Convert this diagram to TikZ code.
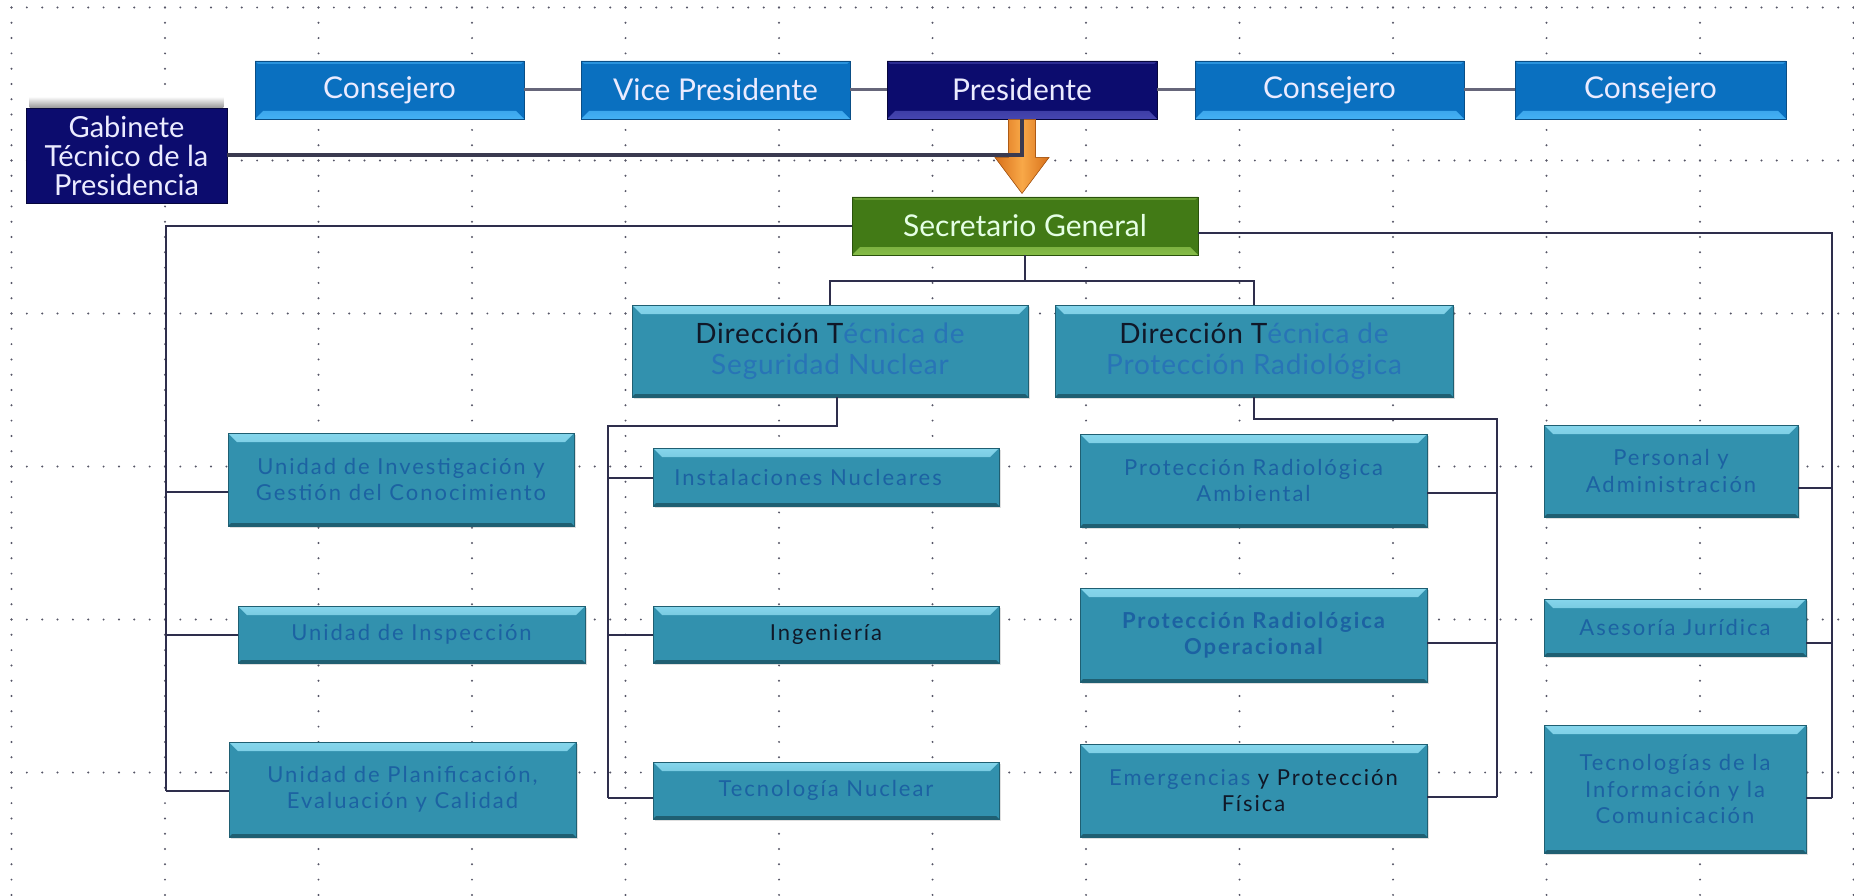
\documentclass[tikz,border=0pt]{standalone}
\usepackage{fontspec}
\setmainfont{Lato}
\newfontfamily\lowfont[LetterSpace=9]{Lato}
\newfontfamily\dirfont[LetterSpace=3]{Lato}
\usetikzlibrary{calc,shadows}
\definecolor{cblue}{HTML}{0A70C0}
\definecolor{cbluehi}{HTML}{44B0F4}
\definecolor{cbluedk}{HTML}{0A4E86}
\definecolor{cnavy}{HTML}{0C0C6E}
\definecolor{cnavyhi}{HTML}{4646B0}
\definecolor{cnavydk}{HTML}{06063C}
\definecolor{cgreen}{HTML}{427A16}
\definecolor{cgreenhi}{HTML}{86BC48}
\definecolor{cgreendk}{HTML}{2A520C}
\definecolor{cteal}{HTML}{3291AE}
\definecolor{ctealhi}{HTML}{86D6EC}
\definecolor{ctealdk}{HTML}{1F5F72}
\definecolor{ctxtblue}{HTML}{1C62A2}
\definecolor{ctxtlight}{HTML}{2874B6}
\definecolor{cdark}{HTML}{101828}
\definecolor{cline}{HTML}{2E2E4C}
\definecolor{ctopline}{HTML}{66667A}
\definecolor{cgabline}{HTML}{3A3A50}
\definecolor{corange}{HTML}{D8701A}
\definecolor{corangehi}{HTML}{F8A848}
\definecolor{gdot}{HTML}{555566}
\tikzset{
  bevA/.style n args={3}{rectangle, inner sep=0pt, draw=#3, line width=0.8pt, fill=#1, align=center,
    path picture={
      \shade[top color=#1, bottom color=#2]
        (path picture bounding box.south west) -- (path picture bounding box.south east)
        -- ([shift={(-8pt,8pt)}]path picture bounding box.south east)
        -- ([shift={(8pt,8pt)}]path picture bounding box.south west) -- cycle;
      \fill[#2!55!#1]
        (path picture bounding box.north west) -- (path picture bounding box.north east)
        -- ([shift={(-3pt,-3pt)}]path picture bounding box.north east)
        -- ([shift={(3pt,-3pt)}]path picture bounding box.north west) -- cycle;
    }},
  topbox/.style={bevA={cblue}{cbluehi}{cbluedk}, text=white!92!blue,
    font=\fontsize{30}{32}\selectfont, minimum height=58pt},
  presbox/.style={bevA={cnavy}{cnavyhi}{cnavydk}, text=white!92!blue,
    font=\fontsize{30}{32}\selectfont, minimum height=58pt},
  gabbox/.style={rectangle, inner sep=0pt, fill=cnavy, draw=cnavydk, line width=0.8pt,
    align=center, text=white!92!blue, font=\fontsize{29}{29}\selectfont},
  secbox/.style={bevA={cgreen}{cgreenhi}{cgreendk}, text=white!90!green,
    font=\fontsize{30}{32}\selectfont, minimum height=58pt},
  tealbox/.style={rectangle, inner sep=0pt, draw=ctealdk, line width=0.8pt, fill=cteal,
    align=center, text=ctxtblue, font=\lowfont\fontsize{22}{26.5}\selectfont,
    drop shadow={shadow xshift=2pt, shadow yshift=-2pt, opacity=0.25},
    path picture={
      \shade[top color=ctealhi, bottom color=cteal]
        (path picture bounding box.north west) -- (path picture bounding box.north east)
        -- ([shift={(-9pt,-9pt)}]path picture bounding box.north east)
        -- ([shift={(9pt,-9pt)}]path picture bounding box.north west) -- cycle;
      \fill[ctealdk]
        (path picture bounding box.south west) -- (path picture bounding box.south east)
        -- ([shift={(-3pt,3pt)}]path picture bounding box.south east)
        -- ([shift={(3pt,3pt)}]path picture bounding box.south west) -- cycle;
    }},
  dirbox/.style={tealbox, font=\dirfont\fontsize{28}{31}\selectfont, text=ctxtlight},
  conn/.style={draw=cline, line width=2pt},
  topconn/.style={draw=ctopline, line width=3pt},
  gabconn/.style={draw=cgabline, line width=4pt},
}
\begin{document}
\begin{tikzpicture}[x=1pt,y=-1pt]
\useasboundingbox[fill=white] (0,0) rectangle (1854,896);
% grid of dots
\foreach \i in {0,...,12} {
  \foreach \j in {0,...,58} {
    \fill[gdot] ({11.5+153.5*\i},{7.5+15.3*\j}) circle (1.1pt);
  }
}
\foreach \j in {0,...,5} {
  \foreach \i in {0,...,120} {
    \fill[gdot] ({11.5+15.35*\i},{7.5+153*\j}) circle (1.1pt);
  }
}
% top row
\node[topbox, minimum width=269pt] (c1) at (389.5,90) {Consejero};
\node[topbox, minimum width=269pt] (vp) at (715.5,90) {Vice Presidente};
\node[presbox, minimum width=270pt] (pres) at (1022,90) {Presidente};
\node[topbox, minimum width=269pt] (c2) at (1329.5,90) {Consejero};
\node[topbox, minimum width=271pt] (c3) at (1650.5,90) {Consejero};
\node[gabbox, minimum width=201pt, minimum height=95pt] (gab) at (126.5,155.5) {Gabinete\\Técnico de la\\Presidencia};
\shade[top color=white, bottom color=black!40]
  ([shift={(4pt,11pt)}]gab.north west) rectangle ([shift={(-4pt,0pt)}]gab.north east);
\node[secbox, minimum width=346pt] (sec) at (1025,226) {Secretario General};
% direcciones
\node[dirbox, minimum width=396pt, minimum height=92pt] (dsn) at (830,351)
  {{\color{cdark}Dirección T}écnica de\\Seguridad Nuclear};
\node[dirbox, minimum width=398pt, minimum height=92pt] (dpr) at (1254,351)
  {{\color{cdark}Dirección T}écnica de\\Protección Radiológica};
% left column
\node[tealbox, minimum width=346pt, minimum height=93pt] (inv) at (401,479.5) {Unidad de Investigación y\\Gestión del Conocimiento};
\node[tealbox, minimum width=347pt, minimum height=57pt] (insp) at (411.5,634.5) {Unidad de Inspección};
\node[tealbox, minimum width=347pt, minimum height=95pt] (plan) at (402.5,789.5) {Unidad de Planificación,\\Evaluación y Calidad};
% middle column
\node[tealbox, minimum width=346pt, minimum height=58pt] (inst) at (826,477) {Instalaciones Nucleares\hspace*{36pt}};
\node[tealbox, minimum width=346pt, minimum height=57pt, text=cdark] (ing) at (826,634.5) {Ingeniería};
\node[tealbox, minimum width=346pt, minimum height=57pt] (tec) at (826,790.5) {Tecnología Nuclear};
% right-middle column
\node[tealbox, minimum width=347pt, minimum height=93pt] (amb) at (1253.5,480.5) {Protección Radiológica\\Ambiental};
\node[tealbox, minimum width=347pt, minimum height=94pt] (ope) at (1253.5,635) {\bfseries Protección Radiológica\\\bfseries Operacional};
\node[tealbox, minimum width=347pt, minimum height=93pt, text=cdark] (eme) at (1253.5,790.5) {{\color{ctxtblue}Emergencias} y Protección\\Física};
% right column
\node[tealbox, minimum width=254pt, minimum height=92pt] (pers) at (1671,471) {Personal y\\Administración};
\node[tealbox, minimum width=262pt, minimum height=57pt] (ases) at (1675,627.5) {Asesoría Jurídica};
\node[tealbox, minimum width=262pt, minimum height=128pt] (tic) at (1675,789) {Tecnologías de la\\Información y la\\Comunicación};
% top connectors
\draw[topconn] (c1) -- (vp);
\draw[topconn] (vp) -- (pres);
\draw[topconn] (pres) -- (c2);
\draw[topconn] (c2) -- (c3);
% orange arrow
\begin{scope}[shift={(pres.south)}]
  \fill[left color=corange, right color=corange, middle color=corangehi, draw=corange!80!black, line width=0.6pt]
    (-13.5,0) -- (13.5,0) -- (13.5,38) -- (27,38) -- (0,74) -- (-27,38) -- (-13.5,38) -- cycle;
\end{scope}
\draw[gabconn] (gab.east) -| (pres.south);
% secretario to direcciones
\coordinate (bT) at (1027.5,280.5);
\draw[conn] (sec.south) -- (sec.south |- bT);
\draw[conn] (dsn.north) |- (bT) -| (dpr.north);
% left bus
\coordinate (jPlan) at (166,791);
\coordinate (jInv) at (166,492);
\coordinate (jInsp) at (166,635);
\draw[conn] (sec.west) -| (jPlan);
\draw[conn] (jInv) -- (jInv -| inv.west);
\draw[conn] (jInsp) -- (jInsp -| insp.west);
\draw[conn] (jPlan) -- (jPlan -| plan.west);
% right bus
\coordinate (jTic) at (1832,798);
\coordinate (jPers) at (1832,488);
\coordinate (jAses) at (1832,643);
\draw[conn] ([yshift=-7pt]sec.east) -| (jTic);
\draw[conn] (jPers) -- (jPers -| pers.east);
\draw[conn] (jAses) -- (jAses -| ases.east);
\draw[conn] (jTic) -- (jTic -| tic.east);
% DSN bus
\coordinate (jTop) at (608,426);
\coordinate (jInst) at (608,478);
\coordinate (jIng) at (608,635);
\coordinate (jTec) at (608,798);
\draw[conn] ([xshift=7pt]dsn.south) |- (jTop) -- (jTec);
\draw[conn] (jInst) -- (jInst -| inst.west);
\draw[conn] (jIng) -- (jIng -| ing.west);
\draw[conn] (jTec) -- (jTec -| tec.west);
% DPR bus
\coordinate (jR0) at (1497,419);
\coordinate (jAmb) at (1497,493);
\coordinate (jOpe) at (1497,643);
\coordinate (jEme) at (1497,797);
\draw[conn] (dpr.south) |- (jR0) -- (jEme);
\draw[conn] (jAmb) -- (jAmb -| amb.east);
\draw[conn] (jOpe) -- (jOpe -| ope.east);
\draw[conn] (jEme) -- (jEme -| eme.east);
\end{tikzpicture}
\end{document}
